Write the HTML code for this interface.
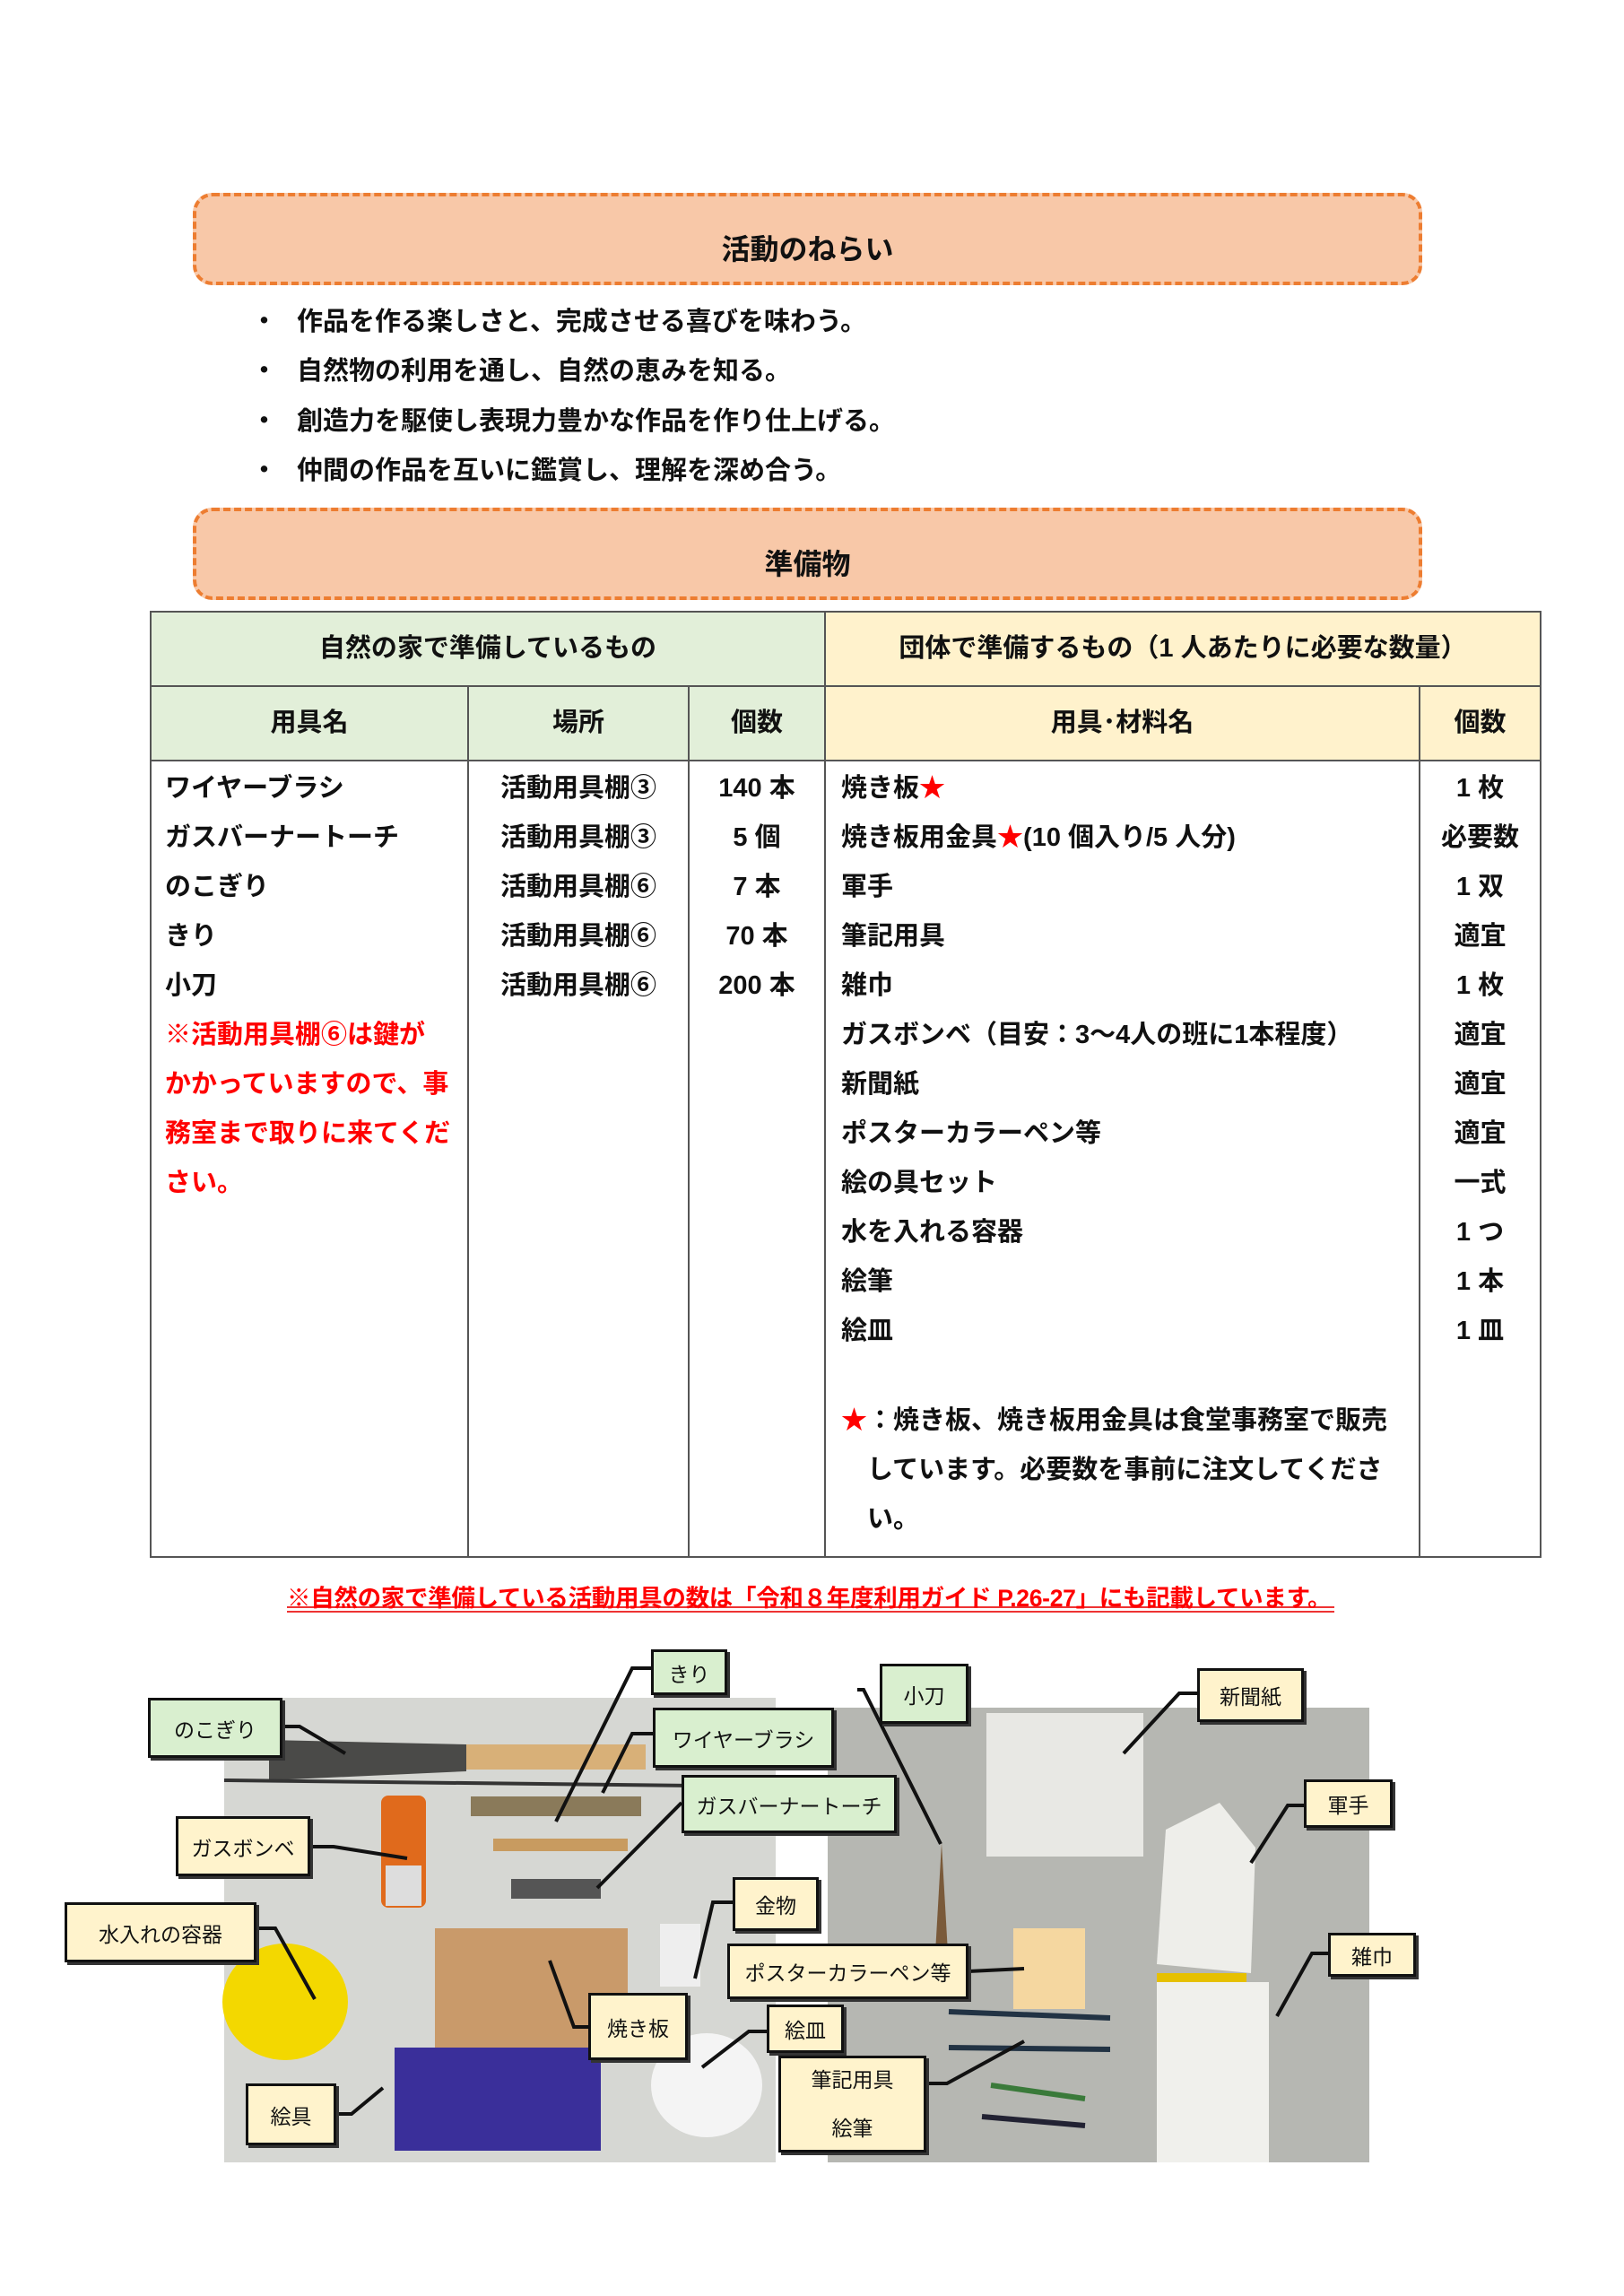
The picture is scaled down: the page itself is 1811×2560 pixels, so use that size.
<!DOCTYPE html>
<html><head><meta charset="utf-8"><style>
*{margin:0;padding:0;box-sizing:border-box}
body{width:1811px;height:2560px;background:#fff;position:relative;overflow:hidden;font-family:"Liberation Sans","Noto Sans CJK JP",sans-serif;font-weight:bold;color:#111}
.a{position:absolute;white-space:nowrap}
.obox{position:absolute;left:215px;width:1371px;height:103px;background:#f8c8a8;border:4px dashed #ed7d31;border-radius:22px;text-align:center;font-size:32px;line-height:118px}
.t{font-size:29px;line-height:34px}
.c{text-align:center}
.lb{position:absolute;border:3px solid #111;box-shadow:3px 3px 0 #333;font-size:23px;font-weight:normal;display:flex;align-items:center;justify-content:center;text-align:center}
.g{background:#d9efcf}.y{background:#fff3cc}
.red{color:#f00}
</style></head><body>
<div class="obox" style="top:215px">活動のねらい</div>
<div class="a t" style="left:280px;top:342px">・</div><div class="a t" style="left:331px;top:342px">作品を作る楽しさと、完成させる喜びを味わう。</div>
<div class="a t" style="left:280px;top:397px">・</div><div class="a t" style="left:331px;top:397px">自然物の利用を通し、自然の恵みを知る。</div>
<div class="a t" style="left:280px;top:453px">・</div><div class="a t" style="left:331px;top:453px">創造力を駆使し表現力豊かな作品を作り仕上げる。</div>
<div class="a t" style="left:280px;top:508px">・</div><div class="a t" style="left:331px;top:508px">仲間の作品を互いに鑑賞し、理解を深め合う。</div>
<div class="obox" style="top:566px">準備物</div>

<svg class="a" style="left:0;top:0" width="1811" height="2560">
<rect x="168" y="682" width="752" height="166" fill="#e2efd9"/>
<rect x="920" y="682" width="798" height="166" fill="#fff2cc"/>
<g stroke="#555" stroke-width="2" fill="none">
<rect x="168" y="682" width="1550" height="1054"/>
<line x1="168" y1="765" x2="1718" y2="765"/>
<line x1="168" y1="848" x2="1718" y2="848"/>
<line x1="920" y1="682" x2="920" y2="1736"/>
<line x1="522" y1="765" x2="522" y2="1736"/>
<line x1="768" y1="765" x2="768" y2="1736"/>
<line x1="1583" y1="765" x2="1583" y2="1736"/>
</g>
<line x1="320" y1="1792" x2="1488" y2="1792" stroke="#e33" stroke-width="2"/>
<line x1="320" y1="1797" x2="1488" y2="1797" stroke="#e33" stroke-width="2"/>
<rect x="250" y="1893" width="615" height="518" fill="#d6d7d3"/>
<rect x="923" y="1904" width="604" height="507" fill="#b6b7b2"/>
<polygon points="300,1940 520,1945 520,1975 300,1985" fill="#4a4a48"/>
<rect x="520" y="1945" width="200" height="28" fill="#d8b078"/>
<line x1="250" y1="1985" x2="865" y2="1992" stroke="#333" stroke-width="4"/>
<rect x="425" y="2002" width="50" height="125" rx="8" fill="#e06a1c"/>
<rect x="430" y="2080" width="40" height="45" fill="#ddd"/>
<rect x="525" y="2003" width="190" height="22" fill="#8a7a5a"/>
<rect x="550" y="2050" width="150" height="14" fill="#c89b60"/>
<rect x="570" y="2095" width="100" height="22" fill="#555"/>
<rect x="485" y="2150" width="215" height="140" fill="#c99a6a"/>
<ellipse cx="318" cy="2232" rx="70" ry="65" fill="#f3d800"/>
<rect x="440" y="2283" width="230" height="115" fill="#3a2f9a"/>
<ellipse cx="788" cy="2325" rx="62" ry="58" fill="#f4f4f4"/>
<rect x="736" y="2145" width="45" height="70" fill="#eee"/>
<rect x="1100" y="1910" width="175" height="160" fill="#e8e8e4"/>
<polygon points="1050,2055 1060,2230 1040,2230" fill="#7a5a3a"/>
<rect x="1130" y="2150" width="80" height="90" fill="#f5d7a0"/>
<line x1="1058" y1="2243" x2="1238" y2="2250" stroke="#234" stroke-width="6"/>
<line x1="1058" y1="2283" x2="1238" y2="2285" stroke="#234" stroke-width="6"/>
<line x1="1105" y1="2325" x2="1210" y2="2340" stroke="#3a7a3a" stroke-width="6"/>
<line x1="1095" y1="2360" x2="1210" y2="2370" stroke="#223" stroke-width="6"/>
<path d="M1290,2190 L1300,2040 L1360,2010 L1400,2060 L1395,2200 Z" fill="#eeeeea"/>
<rect x="1290" y="2210" width="125" height="201" fill="#f0f0ec"/>
<rect x="1290" y="2200" width="100" height="10" fill="#e6c000"/>
<g stroke="#111" stroke-width="4" fill="none">
<polyline points="315,1925 334,1925 385,1955"/>
<polyline points="726,1860 705,1860 620,2031"/>
<polyline points="728,1933 705,1933 672,1999"/>
<polyline points="760,2010 666,2105"/>
<polyline points="346,2059 372,2059 454,2072"/>
<polyline points="286,2150 307,2150 351,2229"/>
<polyline points="817,2121 795,2121 775,2206"/>
<polyline points="656,2260 640,2260 613,2186"/>
<polyline points="855,2265 835,2265 783,2305"/>
<polyline points="375,2357 392,2357 427,2328"/>
<polyline points="1080,2198 1142,2195"/>
<polyline points="1033,2323 1056,2323 1142,2276"/>
<polyline points="956,1884 963,1884 1049,2056"/>
<polyline points="1335,1888 1315,1888 1253,1955"/>
<polyline points="1454,2013 1436,2013 1395,2077"/>
<polyline points="1481,2178 1463,2178 1424,2248"/>
</g>
</svg>

<div class="a t c" style="left:168px;width:752px;top:706px">自然の家で準備しているもの</div>
<div class="a t c" style="left:920px;width:798px;top:706px">団体で準備するもの（1 人あたりに必要な数量）</div>
<div class="a t c" style="left:168px;width:354px;top:789px">用具名</div>
<div class="a t c" style="left:522px;width:246px;top:789px">場所</div>
<div class="a t c" style="left:768px;width:152px;top:789px">個数</div>
<div class="a t c" style="left:920px;width:663px;top:789px">用具･材料名</div>
<div class="a t c" style="left:1583px;width:135px;top:789px">個数</div>

<div class="a t" style="left:184px;top:852px;line-height:55px">ワイヤーブラシ<br>ガスバーナートーチ<br>のこぎり<br>きり<br>小刀<br><span class="red">※活動用具棚⑥は鍵が<br>かかっていますので、事<br>務室まで取りに来てくだ<br>さい。</span></div>
<div class="a t c" style="left:522px;width:246px;top:852px;line-height:55px">活動用具棚③<br>活動用具棚③<br>活動用具棚⑥<br>活動用具棚⑥<br>活動用具棚⑥</div>
<div class="a t c" style="left:768px;width:152px;top:852px;line-height:55px">140 本<br>5 個<br>7 本<br>70 本<br>200 本</div>
<div class="a t" style="left:938px;top:852px;line-height:55px">焼き板<span class="red">★</span><br>焼き板用金具<span class="red">★</span>(10 個入り/5 人分)<br>軍手<br>筆記用具<br>雑巾<br>ガスボンベ（目安：3～4人の班に1本程度）<br>新聞紙<br>ポスターカラーペン等<br>絵の具セット<br>水を入れる容器<br>絵筆<br>絵皿</div>
<div class="a t c" style="left:1583px;width:135px;top:852px;line-height:55px">1 枚<br>必要数<br>1 双<br>適宜<br>1 枚<br>適宜<br>適宜<br>適宜<br>一式<br>1 つ<br>1 本<br>1 皿</div>
<div class="a t" style="left:938px;top:1557px;line-height:55px"><span class="red">★</span>：焼き板、焼き板用金具は食堂事務室で販売<br>　しています。必要数を事前に注文してくださ<br>　い。</div>

<div class="a red" style="left:320px;top:1760px;font-size:26.5px;letter-spacing:-0.3px">※自然の家で準備している活動用具の数は「令和８年度利用ガイド P.26-27」にも記載しています。</div>

<div class="lb g" style="left:165px;top:1893px;width:150px;height:67px">のこぎり</div>
<div class="lb g" style="left:726px;top:1839px;width:85px;height:51px">きり</div>
<div class="lb g" style="left:728px;top:1904px;width:202px;height:67px">ワイヤーブラシ</div>
<div class="lb g" style="left:760px;top:1979px;width:240px;height:65px">ガスバーナートーチ</div>
<div class="lb y" style="left:196px;top:2025px;width:150px;height:67px">ガスボンベ</div>
<div class="lb y" style="left:72px;top:2121px;width:214px;height:67px">水入れの容器</div>
<div class="lb y" style="left:817px;top:2093px;width:96px;height:60px">金物</div>
<div class="lb y" style="left:811px;top:2167px;width:269px;height:62px">ポスターカラーペン等</div>
<div class="lb y" style="left:656px;top:2222px;width:111px;height:75px">焼き板</div>
<div class="lb y" style="left:855px;top:2235px;width:86px;height:54px">絵皿</div>
<div class="lb y" style="left:274px;top:2323px;width:101px;height:69px">絵具</div>
<div class="lb y" style="left:868px;top:2292px;width:165px;height:108px;line-height:54px">筆記用具<br>絵筆</div>
<div class="lb g" style="left:981px;top:1855px;width:99px;height:67px">小刀</div>
<div class="lb y" style="left:1335px;top:1860px;width:119px;height:60px">新聞紙</div>
<div class="lb y" style="left:1454px;top:1984px;width:99px;height:54px">軍手</div>
<div class="lb y" style="left:1481px;top:2155px;width:98px;height:49px">雑巾</div>
</body></html>
